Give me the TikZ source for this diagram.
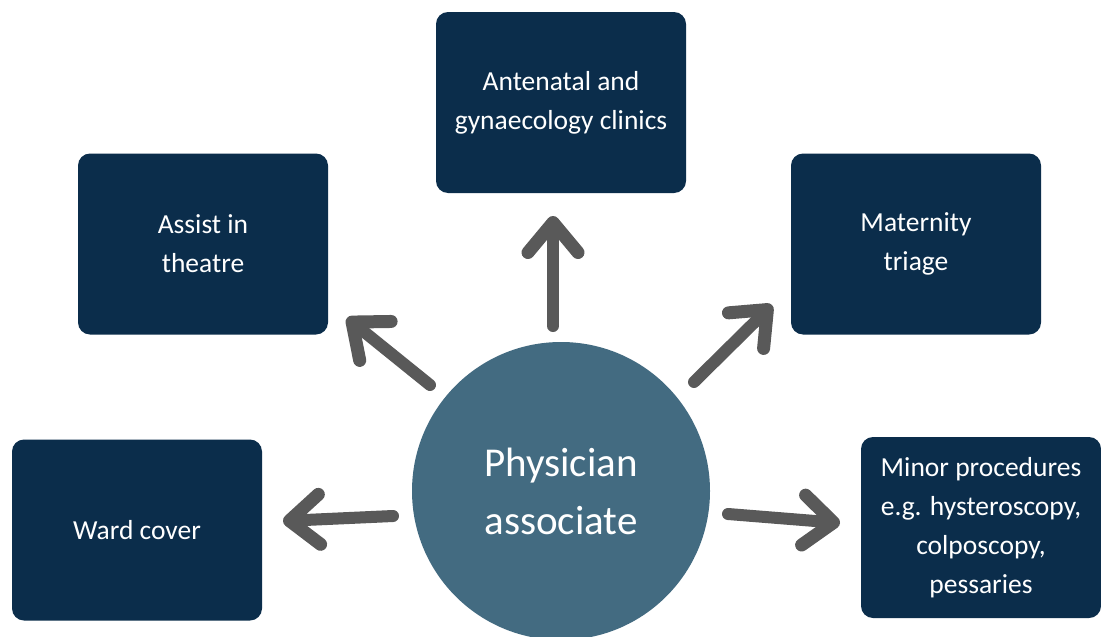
\documentclass[tikz,border=0pt]{standalone}
\usepackage{fontspec}
\setmainfont{Carlito}
\usetikzlibrary{arrows.meta}
\definecolor{boxnavy}{HTML}{0B2D4B}
\definecolor{circblue}{HTML}{436B81}
\definecolor{arrowgray}{HTML}{595959}
\begin{document}
\begin{tikzpicture}[x=1pt,y=-1pt,
  rolebox/.style={fill=boxnavy, rounded corners=12pt, minimum width=250pt, minimum height=181pt,
    text=white, align=center, font=\fontsize{27.5}{39}\selectfont, inner sep=0pt},
  bigarrow/.style={draw=arrowgray, line width=12pt, line cap=round, line join=round,
    -{Straight Barb[length=30pt,width=50pt,line width=13pt,round]}}]
\useasboundingbox (0,0) rectangle (1101,637);
\clip (0,0) rectangle (1101,637);
\fill[white] (0,0) rectangle (1101,637);
\node[rolebox] (anten) at (561,102.5) {Antenatal and\\gynaecology clinics};
\node[rolebox] (theatre) at (203,244) {Assist in\\theatre};
\node[rolebox] (triage) at (916,244) {Maternity\\triage};
\node[rolebox] (ward) at (137,530) {Ward cover};
\node[rolebox, minimum width=240pt] (minor) at (981,527.5) {Minor procedures\\e.g. hysteroscopy,\\colposcopy,\\pessaries};
\node[circle, fill=circblue, minimum size=298pt, inner sep=0pt, text=white, align=center,
  font=\fontsize{41}{58}\selectfont] (pa) at (561,491) {Physician\\associate};
\coordinate (s1) at (553,326);  \coordinate (e1) at (553,216);
\coordinate (s2) at (430,385);  \coordinate (e2) at (347,318);
\coordinate (s3) at (694,382);  \coordinate (e3) at (772,305);
\coordinate (s4) at (393,516);  \coordinate (e4) at (283,521);
\coordinate (s5) at (728,514);  \coordinate (e5) at (840,523);
\draw[bigarrow] (s1) -- (e1);
\draw[bigarrow] (s2) -- (e2);
\draw[bigarrow] (s3) -- (e3);
\draw[bigarrow] (s4) -- (e4);
\draw[bigarrow] (s5) -- (e5);
\end{tikzpicture}
\end{document}
